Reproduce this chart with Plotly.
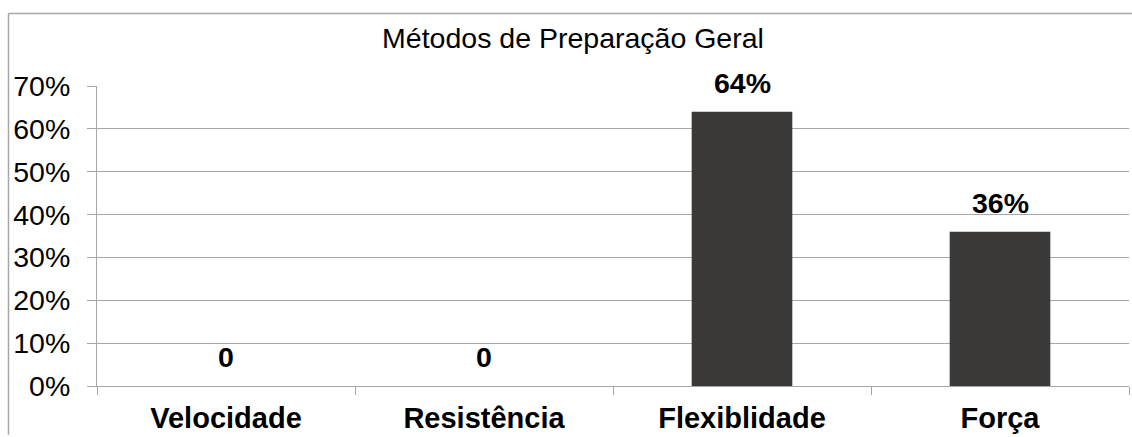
import plotly.graph_objects as go

# Chart data
categories = ["Velocidade", "Resistência", "Flexiblidade", "Força"]
values = [0, 0, 64, 36]
y_tickvals = [0, 10, 20, 30, 40, 50, 60, 70]
y_ticktext = ["0%", "10%", "20%", "30%", "40%", "50%", "60%", "70%"]
title_text = "Métodos de Preparação Geral"

W, H = 1132, 437
ML, MR, MT, MB = 97, 3, 86, 49
PW, PH = W - ML - MR, H - MT - MB

FONT = "Liberation Sans, Arial, sans-serif"
GRID = "#a6a6a6"
BAR = "#3b3937"

fig = go.Figure()
fig.add_trace(go.Bar(
    x=categories, y=values, width=0.39,
    marker=dict(color=BAR, line=dict(width=0)),
    hoverinfo="skip",
))

# value labels above each bar
def label_for(v):
    return "0" if v == 0 else f"{v}%"

for c, v in zip(categories, values):
    fig.add_annotation(
        x=c, y=v, xref="x", yref="y",
        text=f"<b>{label_for(v)}</b>", showarrow=False,
        yanchor="middle", yshift=29,
        font=dict(family=FONT, size=28.5, color="black"),
    )

# outer chart frame: only the left and top edges fall inside the page
def px_x(p):
    return (p - ML) / PW

def px_y(p):
    return (H - MB - p) / PH

frame = dict(color=GRID, width=1.5)
fig.add_shape(type="line", xref="paper", yref="paper",
              x0=px_x(8.5), x1=px_x(8.5), y0=px_y(13), y1=px_y(H),
              line=frame, layer="below")
fig.add_shape(type="line", xref="paper", yref="paper",
              x0=px_x(8.5), x1=px_x(W), y0=px_y(13), y1=px_y(13),
              line=frame, layer="below")

fig.update_layout(
    width=W, height=H,
    margin=dict(l=ML, r=MR, t=MT, b=MB, pad=0),
    paper_bgcolor="white", plot_bgcolor="white",
    showlegend=False,
    title=dict(
        text=title_text, x=573 / W, xanchor="center", xref="container",
        y=1 - 38 / H, yanchor="middle", yref="container",
        font=dict(family=FONT, size=28.5, color="black"),
    ),
    font=dict(family=FONT, color="black"),
    bargap=0.61,
)

fig.update_xaxes(
    type="category",
    tickson="boundaries", ticks="outside", ticklen=8, tickcolor=GRID, tickwidth=1,
    showline=True, linecolor=GRID, linewidth=1,
    showgrid=False,
    tickfont=dict(family=FONT, size=29, color="black"),
    ticklabelstandoff=6,
    tickprefix="<b>", ticksuffix="</b>",
)
fig.update_yaxes(
    range=[0, 70], tickvals=y_tickvals, ticktext=y_ticktext,
    ticks="outside", ticklen=9, tickcolor=GRID, tickwidth=1,
    showline=True, linecolor=GRID, linewidth=1,
    showgrid=True, gridcolor=GRID, gridwidth=1,
    zeroline=False,
    tickfont=dict(family=FONT, size=28.5, color="black"),
    ticklabelstandoff=11,
)

fig.write_html("out.html")
